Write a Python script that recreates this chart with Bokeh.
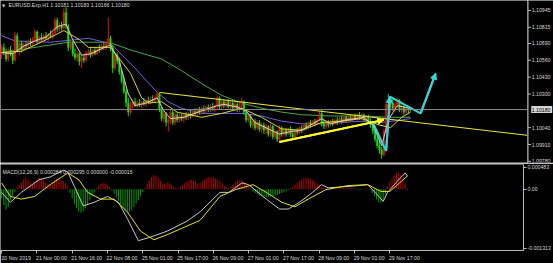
from bokeh.plotting import figure
from bokeh.layouts import column, row
from bokeh.models import (FixedTicker, Span, Label, Arrow, NormalHead, Range1d,
                          ColumnDataSource)
from bokeh.core.properties import value
from bokeh.embed import file_html
from bokeh.resources import INLINE

# ---------------- data ----------------
opens = [1.1060,1.1066,1.1062,1.1057,1.1064,1.1061,1.1056,1.1075,1.1064,1.1069,
1.1065,1.1068,1.1067,1.1070,1.1069,1.1072,1.1078,1.1071,1.1074,1.1072,
1.1075,1.1073,1.1076,1.1074,1.1077,1.1087,1.1080,1.1083,1.1081,1.1093,
1.1082,1.1066,1.1070,1.1061,1.1058,1.1061,1.1055,1.1058,1.1056,1.1062,
1.1063,1.1060,1.1064,1.1061,1.1065,1.1064,1.1067,1.1066,1.1069,1.1073,
1.1065,1.1050,1.1060,1.1055,1.1047,1.1040,1.1032,1.1023,1.1016,1.1022,
1.1024,1.1021,1.1023,1.1022,1.1024,1.1022,1.1025,1.1023,1.1026,1.1025,
1.1027,1.1030,1.1018,1.1011,1.1015,1.1008,1.1010,1.1016,1.1008,1.1014,
1.1010,1.1013,1.1011,1.1014,1.1012,1.1015,1.1013,1.1016,1.1015,1.1018,
1.1016,1.1019,1.1017,1.1020,1.1018,1.1020,1.1019,1.1021,1.1027,1.1020,
1.1024,1.1021,1.1024,1.1020,1.1023,1.1019,1.1022,1.1018,1.1021,1.1024,
1.1016,1.1010,1.1013,1.1006,1.1009,1.1004,1.1008,1.1003,1.1006,1.1002,
1.1005,1.0999,1.1005,1.0997,1.1001,1.0995,1.1004,1.0999,1.1002,1.0999,
1.1003,1.0999,1.0997,1.1002,1.1000,1.1004,1.1002,1.1006,1.1004,1.1008,
1.1006,1.1009,1.1007,1.1010,1.1015,1.1007,1.1005,1.1008,1.1006,1.1009,
1.1007,1.1010,1.1008,1.1011,1.1009,1.1012,1.1010,1.1012,1.1010,1.1013,
1.1011,1.1014,1.1012,1.1014,1.1011,1.1013,1.1009,1.1006,1.1001,1.0995,
1.0990,1.0987,1.0983,1.1001,1.1022,1.1019,1.1023,1.1019,1.1022,1.1025,
1.1018,1.1020,1.1016,1.1019,1.10181]
highs = [1.1068,1.1069,1.1065,1.1066,1.1067,1.1063,1.1078,1.1077,1.1071,1.1071,
1.1070,1.1071,1.1072,1.1073,1.1074,1.1080,1.1079,1.1075,1.1077,1.1076,
1.1078,1.1077,1.1079,1.1078,1.1089,1.1089,1.1085,1.1086,1.1096,1.1097,
1.1084,1.1072,1.1071,1.1065,1.1063,1.1062,1.1060,1.1061,1.1063,1.1065,
1.1066,1.1065,1.1066,1.1066,1.1068,1.1069,1.1070,1.1071,1.1089,1.1075,
1.1068,1.1062,1.1062,1.1058,1.1049,1.1043,1.1034,1.1027,1.1024,1.1026,
1.1027,1.1025,1.1026,1.1025,1.1027,1.1026,1.1028,1.1028,1.1029,1.1029,
1.1032,1.1031,1.1020,1.1017,1.1016,1.1012,1.1018,1.1018,1.1016,1.1016,
1.1015,1.1015,1.1015,1.1016,1.1016,1.1017,1.1018,1.1019,1.1019,1.1020,
1.1020,1.1021,1.1021,1.1022,1.1022,1.1023,1.1022,1.1029,1.1028,1.1026,
1.1026,1.1026,1.1026,1.1025,1.1025,1.1024,1.1024,1.1023,1.1027,1.1025,
1.1018,1.1015,1.1014,1.1011,1.1011,1.1010,1.1010,1.1008,1.1008,1.1007,
1.1006,1.1007,1.1006,1.1003,1.1002,1.1006,1.1005,1.1004,1.1004,1.1004,
1.1005,1.1003,1.1003,1.1004,1.1005,1.1006,1.1007,1.1008,1.1009,1.1010,
1.1010,1.1011,1.1011,1.1017,1.1018,1.1010,1.1010,1.1010,1.1010,1.1011,
1.1011,1.1012,1.1012,1.1013,1.1013,1.1013,1.1013,1.1014,1.1014,1.1015,
1.1015,1.1016,1.1015,1.1015,1.1014,1.1014,1.1011,1.1008,1.1003,1.0998,
1.0994,1.0989,1.1003,1.1026,1.1030,1.1025,1.1026,1.1024,1.1027,1.1026,
1.1022,1.1022,1.1020,1.1020,1.10183]
lows = [1.1057,1.1060,1.1055,1.1055,1.1059,1.1053,1.1055,1.1062,1.1060,1.1062,
1.1063,1.1065,1.1065,1.1067,1.1067,1.1070,1.1069,1.1069,1.1071,1.1070,
1.1072,1.1071,1.1073,1.1072,1.1076,1.1078,1.1078,1.1079,1.1080,1.1080,
1.1063,1.1064,1.1059,1.1056,1.1055,1.1052,1.1050,1.1054,1.1055,1.1059,
1.1058,1.1059,1.1060,1.1060,1.1062,1.1063,1.1064,1.1064,1.1067,1.1063,
1.1046,1.1048,1.1053,1.1045,1.1038,1.1030,1.1020,1.1013,1.1014,1.1019,
1.1020,1.1019,1.1020,1.1019,1.1021,1.1020,1.1022,1.1022,1.1023,1.1023,
1.1025,1.1016,1.1009,1.1008,1.1005,1.1001,1.1007,1.1006,1.1006,1.1008,
1.1008,1.1009,1.1008,1.1010,1.1010,1.1011,1.1012,1.1013,1.1013,1.1014,
1.1014,1.1015,1.1015,1.1016,1.1016,1.1017,1.1016,1.1019,1.1018,1.1018,
1.1019,1.1019,1.1019,1.1018,1.1017,1.1017,1.1016,1.1016,1.1019,1.1014,
1.1008,1.1008,1.1004,1.1003,1.1002,1.1002,1.1001,1.1000,1.0999,1.0999,
1.0997,1.0997,1.0995,1.0995,1.0993,1.0993,1.0997,1.0997,1.0997,1.0998,
1.0997,1.0995,1.0996,1.0998,1.0999,1.1000,1.1001,1.1002,1.1003,1.1004,
1.1005,1.1005,1.1006,1.1009,1.1005,1.1003,1.1003,1.1004,1.1005,1.1005,
1.1006,1.1006,1.1007,1.1007,1.1008,1.1008,1.1008,1.1009,1.1009,1.1010,
1.1009,1.1010,1.1010,1.1009,1.1009,1.1007,1.1004,1.0999,1.0993,1.0988,
1.0984,1.0980,1.0982,1.1000,1.1016,1.1015,1.1017,1.1016,1.1019,1.1016,
1.1015,1.1014,1.1014,1.1015,1.10166]
closes = [1.1066,1.1062,1.1057,1.1064,1.1061,1.1056,1.1075,1.1064,1.1069,1.1065,
1.1068,1.1067,1.1070,1.1069,1.1072,1.1078,1.1071,1.1074,1.1072,1.1075,
1.1073,1.1076,1.1074,1.1077,1.1087,1.1080,1.1083,1.1081,1.1093,1.1082,
1.1066,1.1070,1.1061,1.1058,1.1061,1.1055,1.1058,1.1056,1.1062,1.1063,
1.1060,1.1064,1.1061,1.1065,1.1064,1.1067,1.1066,1.1069,1.1073,1.1065,
1.1050,1.1060,1.1055,1.1047,1.1040,1.1032,1.1023,1.1016,1.1022,1.1024,
1.1021,1.1023,1.1022,1.1024,1.1022,1.1025,1.1023,1.1026,1.1025,1.1027,
1.1030,1.1018,1.1011,1.1015,1.1008,1.1010,1.1016,1.1008,1.1014,1.1010,
1.1013,1.1011,1.1014,1.1012,1.1015,1.1013,1.1016,1.1015,1.1018,1.1016,
1.1019,1.1017,1.1020,1.1018,1.1020,1.1019,1.1021,1.1027,1.1020,1.1024,
1.1021,1.1024,1.1020,1.1023,1.1019,1.1022,1.1018,1.1021,1.1024,1.1016,
1.1010,1.1013,1.1006,1.1009,1.1004,1.1008,1.1003,1.1006,1.1002,1.1005,
1.0999,1.1005,1.0997,1.1001,1.0995,1.1004,1.0999,1.1002,1.0999,1.1003,
1.0999,1.0997,1.1002,1.1000,1.1004,1.1002,1.1006,1.1004,1.1008,1.1006,
1.1009,1.1007,1.1010,1.1015,1.1007,1.1005,1.1008,1.1006,1.1009,1.1007,
1.1010,1.1008,1.1011,1.1009,1.1012,1.1010,1.1012,1.1010,1.1013,1.1011,
1.1014,1.1012,1.1014,1.1011,1.1013,1.1009,1.1006,1.1001,1.0995,1.0990,
1.0987,1.0983,1.1001,1.1022,1.1019,1.1023,1.1019,1.1022,1.1025,1.1018,
1.1020,1.1016,1.1019,1.10181,1.10180]

# moving averages (bar index, price)
ma_fast_x = [0,5,10,15,20,25,29,32,36,40,45,49,53,57,60,65,70,73,76,82,90,97,100,106,110,114,120,125,130,135,140,144,148,155,163,167,171,174,178,184]
ma_fast_y = [1.1062,1.1061,1.1067,1.1071,1.1074,1.1082,1.1084,1.1072,1.1060,1.1061,1.1065,1.1068,1.1055,1.1030,1.1021,1.1023,1.1027,1.1017,1.1011,1.1012,1.1017,1.1021,1.1022,1.1020,1.1017,1.1008,1.1003,1.0999,1.1001,1.1002,1.1007,1.1011,1.1007,1.1010,1.1012,1.1006,1.0990,1.1010,1.1021,1.1019]
ma_yellow_x = [0,9,19,28,35,39,45,49,58,63,66,72,79,90,99,108,117,126,135,144,153,162,170,175,180,184]
ma_yellow_y = [1.1062,1.1063,1.1071,1.1079,1.1072,1.1066,1.1066,1.1066,1.1046,1.1027,1.1023,1.1024,1.1016,1.1012,1.1015,1.1019,1.1012,1.1003,1.1002,1.1008,1.1009,1.1011,1.1006,1.1004,1.1012,1.1016]
ma_purple_x = [0,6,22,39,49,60,69,75,81,90,99,108,117,126,135,144,153,162,171,180,184]
ma_purple_y = [1.1075,1.1071,1.1070,1.1073,1.1069,1.1050,1.1033,1.1024,1.1019,1.1015,1.1015,1.1015,1.1013,1.1009,1.1007,1.1007,1.1008,1.1009,1.1008,1.1010,1.1011]
ma_green_x = [0,15,30,45,50,58,66,72,81,90,99,108,117,126,135,148,162,175,184]
ma_green_y = [1.1062,1.1066,1.1070,1.1070,1.1069,1.1064,1.1060,1.1057,1.1048,1.1038,1.1029,1.1023,1.1019,1.1016,1.1014,1.1013,1.1013,1.1012,1.1012]

# MACD(12,26,9)
macd_hist = [-0.00020,-0.00035,-0.00045,-0.00040,-0.00025,
-0.00015,-0.00005,0.00005,0.00010,
0.00015,0.00022,0.00025,0.00020,0.00015,0.00010,
0.00015,0.00022,0.00026,0.00025,0.00020,0.00015,0.00012,
0.00012,0.00016,0.00020,0.00023,0.00022,0.00020,0.00018,0.00014,0.00008,
-0.00008,-0.00020,-0.00032,-0.00042,-0.00050,-0.00052,-0.00048,-0.00042,-0.00034,-0.00025,-0.00016,-0.00008,
0.00003,0.00008,0.00012,0.00014,0.00013,0.00010,0.00005,
-0.00003,-0.00010,
-0.00018,-0.00026,-0.00034,-0.00042,-0.00048,-0.00052,-0.00050,-0.00046,-0.00040,-0.00032,-0.00024,-0.00015,-0.00006,
0.00003,
0.00012,0.00020,0.00027,0.00031,0.00030,0.00025,0.00018,
0.00010,0.00012,0.00014,0.00013,0.00010,0.00006,0.00003,
0.00002,0.00005,
0.00009,0.00013,0.00017,0.00020,0.00021,0.00019,0.00016,0.00012,
0.00014,0.00018,0.00022,0.00025,0.00027,0.00027,0.00026,0.00024,0.00021,0.00018,0.00013,0.00008,0.00004,
0.00003,0.00006,
0.00010,0.00015,0.00019,0.00021,0.00020,0.00016,0.00010,0.00004,
-0.00002,
-0.00005,-0.00008,-0.00011,-0.00014,-0.00016,-0.00018,-0.00018,-0.00017,-0.00016,-0.00015,-0.00014,-0.00013,-0.00011,-0.00009,-0.00007,-0.00004,-0.00002,
0.00002,0.00006,
0.00010,0.00014,0.00018,0.00021,0.00024,0.00025,0.00025,0.00023,0.00020,0.00017,0.00013,0.00009,0.00005,
0.00003,0.00002,0.00001,-0.00001,0.00001,0.00002,0.00003,0.00002,0.00001,0.00002,0.00003,0.00004,0.00003,0.00002,0.00001,-0.00001,-0.00002,-0.00001,0.00001,0.00002,0.00001,-0.00002,
-0.00008,-0.00016,-0.00023,-0.00029,-0.00030,-0.00024,-0.00012,
0.00006,0.00016,0.00025,0.00031,0.00036,0.00037,0.00033,0.00025,0.00012,-0.000015]
macd_x = [0,4,9,17,22,28,30,33,37,42,48,53,57,62,67,75,84,90,99,103,109,112,120,126,130,135,141,145,148,157,166,171,173,175,180,183,184]
macd_v = [-0.00007,-0.00029,-0.00007,0.00021,0.00027,0.00042,0.00038,0.00006,-0.00037,-0.00029,-0.00016,-0.00029,-0.00065,-0.00114,-0.00107,-0.00093,-0.00071,-0.00050,-0.00007,-0.00007,0.00014,0.00010,-0.00022,-0.00044,-0.00044,-0.00029,-0.00007,0.00010,0.00003,0.00006,0.00010,-0.00016,-0.00027,-0.00007,0.00021,0.00036,0.000284]
signal_x = [0,4,9,15,22,30,35,39,45,51,57,63,69,75,82,90,99,106,114,120,127,133,139,147,157,166,172,176,180,184]
signal_v = [0.00014,-0.00016,-0.00022,-0.00016,0.00010,0.00036,0.00021,-0.00007,-0.00022,-0.00022,-0.00050,-0.00093,-0.00112,-0.00101,-0.00086,-0.00069,-0.00016,-0.00001,0.00010,-0.00007,-0.00029,-0.00039,-0.00022,-0.00001,0.00008,0.00010,-0.00005,-0.00005,0.00012,0.000295]

# drawn objects (bar index, price)
trend_x = [71, 237]
trend_y = [1.10312, 1.09980]
arrow_x = [125, 172]
arrow_y = [1.0993, 1.1010]
zigzag_x = [167, 173, 174.7, 188.5, 195.3]
zigzag_y = [1.1008, 1.0986, 1.1028, 1.1015, 1.1046]
last_price = 1.10180

price_ticks = [1.09780, 1.09910, 1.10040, 1.10300, 1.10430, 1.10560, 1.10690, 1.10815, 1.10945]
price_tick_labels = ["1.09780", "1.09910", "1.10040", "1.10300", "1.10430", "1.10560",
                     "1.10690", "1.10815", "1.10945"]
last_price_label = "1.10180"
macd_ticks = [0.000483, 0.0, -0.001313]
macd_tick_labels = ["0.000483", "0.00", "-0.001313"]
time_ticks = [0, 16, 32, 48, 64, 80, 96, 112, 128, 144, 160, 176]
time_labels = ["20 Nov 2019", "21 Nov 00:00", "21 Nov 16:00", "22 Nov 08:00", "25 Nov 01:00",
               "25 Nov 17:00", "26 Nov 09:00", "27 Nov 01:00", "27 Nov 17:00", "28 Nov 09:00",
               "29 Nov 01:00", "29 Nov 17:00"]
title_text = "EURUSD.Exp,H1  1.10181 1.10183 1.10166 1.10180"
macd_text = "MACD(12,26,9) 0.000284 0.000295 0.000000 -0.000015"

# ---------------- style ----------------
FONT = "Liberation Sans"
FS = "5.2px"
AX = "#b8b8b8"
TXT = "#d8d8d8"
UP = "#e01010"
DN = "#10e010"

n = len(closes)
idx = list(range(n))
cols = [UP if c >= o else DN for o, c in zip(opens, closes)]
src = ColumnDataSource(dict(x=idx, o=opens, h=highs, l=lows, c=closes,
                            top=[max(a, b) for a, b in zip(opens, closes)],
                            bot=[min(a, b) for a, b in zip(opens, closes)], col=cols))

common = dict(output_backend="svg", toolbar_location=None, background_fill_color="black",
              border_fill_color="black", outline_line_color=None)

xr = Range1d(-0.5, 236.6)
yr = Range1d(1.09771, 1.11022)
p1 = figure(width=527, height=163, x_range=xr, y_range=yr, x_axis_location=None,
            y_axis_location=None, min_border_left=0, min_border_right=0,
            min_border_top=0, min_border_bottom=1, **common)
p1.grid.visible = False

# bid line
p1.add_layout(Span(location=last_price, dimension="width", line_color="#8a8a8a", line_width=1))

# moving averages
p1.line(ma_green_x, ma_green_y, line_color="#48a848", line_width=1)
p1.line(ma_purple_x, ma_purple_y, line_color="#7060e0", line_width=1)

p1.segment(x0="x", y0="l", x1="x", y1="h", line_color="col", line_width=1, source=src)
p1.vbar(x="x", width=0.75, top="top", bottom="bot", fill_color="col", line_color="col",
        line_width=0.3, source=src)

p1.line(ma_yellow_x, ma_yellow_y, line_color="#d8d820", line_width=1)
p1.line(ma_fast_x, ma_fast_y, line_color="#f0c0d0", line_width=1)

# trend line and arrows
p1.line(trend_x, trend_y, line_color="#e8e840", line_width=1)
p1.line(arrow_x, arrow_y, line_color="#ffff20", line_width=2)
p1.add_layout(Arrow(end=NormalHead(size=6, fill_color="#ffff20", line_color="#ffff20"),
                    x_start=arrow_x[0], y_start=arrow_y[0], x_end=arrow_x[1], y_end=arrow_y[1],
                    line_color="#ffff20", line_width=2))
p1.line(zigzag_x, zigzag_y, line_color="#30d8d8", line_width=2)
for i in (1, 3):
    p1.add_layout(Arrow(end=NormalHead(size=6, fill_color="#30d8d8", line_color="#30d8d8"),
                        x_start=zigzag_x[i], y_start=zigzag_y[i], x_end=zigzag_x[i + 1],
                        y_end=zigzag_y[i + 1], line_color="#30d8d8", line_width=2))

p1.add_layout(Label(x=8, y=157.5, x_units="screen", y_units="screen", text=title_text,
                    text_font=FONT, text_font_size=FS, text_color=TXT, text_baseline="middle"))
p1.add_layout(Label(x=1.5, y=157.5, x_units="screen", y_units="screen", text="\u25bc",
                    text_font="DejaVu Sans", text_font_size="4px", text_color=TXT,
                    text_baseline="middle"))
p1.add_layout(Span(location=yr.start, dimension="width", line_color="#909090", line_width=1))

# price scale panel (right of the main chart)
pr = figure(width=26, height=163, x_range=Range1d(0, 26), y_range=yr, x_axis_location=None,
            y_axis_location=None, min_border_left=0, min_border_right=0,
            min_border_top=0, min_border_bottom=1, **common)
pr.grid.visible = False
pr.add_layout(Span(location=0.5, dimension="height", line_color=AX, line_width=1))
pr.segment(x0=0.5, x1=3.5, y0=price_ticks, y1=price_ticks, line_color=AX, line_width=1)
pr.text(x=4.2, y=price_ticks, text=price_tick_labels, text_font=value(FONT),
        text_font_size=value(FS), text_color=TXT, text_baseline="middle")
pr.rect(x=14.2, y=last_price, width=21, height=7, height_units="screen",
        fill_color="#d4d4d4", line_color=None)
pr.text(x=[4.2], y=[last_price], text=[last_price_label], text_font=value(FONT),
        text_font_size=value(FS), text_color="black", text_baseline="middle")

# ---------------- MACD ----------------
hsrc = ColumnDataSource(dict(x=idx, z=[0.0] * n, v=macd_hist,
                             col=["#b80000" if v >= 0 else "#009a00" for v in macd_hist]))
p2 = figure(width=553, height=100, x_range=xr, y_range=Range1d(-0.001358, 0.000547),
            y_axis_location="right", min_border_left=0, min_border_right=26,
            min_border_top=1, min_border_bottom=10, **common)
p2.grid.visible = False
p2.segment(x0="x", y0="z", x1="x", y1="v", line_color="col", line_width=1, source=hsrc)
p2.line(macd_x, macd_v, line_color="#c8c8c8", line_width=1)
p2.line(signal_x, signal_v, line_color="#e0e020", line_width=1)
p2.add_layout(Span(location=0.000547, dimension="width", line_color="#909090", line_width=1))

y2 = p2.yaxis[0]
y2.ticker = FixedTicker(ticks=macd_ticks)
y2.major_label_overrides = {t: s for t, s in zip(macd_ticks, macd_tick_labels)}
x2 = p2.xaxis[0]
x2.ticker = FixedTicker(ticks=[t + 6.6 for t in time_ticks], minor_ticks=time_ticks)
x2.major_label_overrides = {t + 6.6: s for t, s in zip(time_ticks, time_labels)}
for a in [y2, x2]:
    a.axis_line_color = AX
    a.major_tick_line_color = AX
    a.major_tick_out = 3
    a.major_tick_in = 0
    a.minor_tick_line_color = None
    a.major_label_text_color = TXT
    a.major_label_text_font = FONT
    a.major_label_text_font_size = FS
    a.major_label_standoff = 1
x2.major_tick_line_color = None
x2.minor_tick_line_color = AX
x2.minor_tick_out = 3
x2.minor_tick_in = 0

p2.add_layout(Label(x=2, y=79, x_units="screen", y_units="screen", text=macd_text,
                    text_font=FONT, text_font_size=FS, text_color=TXT, text_baseline="middle"))

layout = column(row(p1, pr, spacing=0), p2, spacing=0)
open("out.html", "w").write(file_html(layout, INLINE))
